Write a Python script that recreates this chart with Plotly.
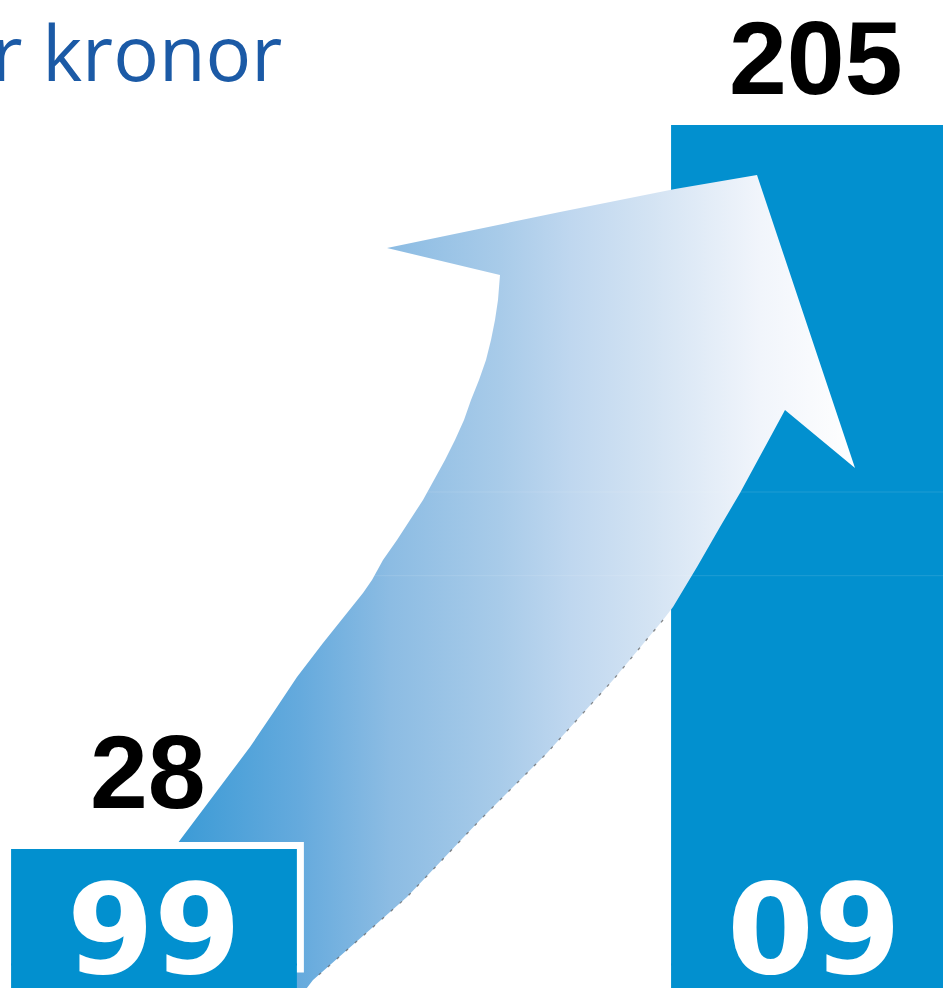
import plotly.graph_objects as go

# ---- data ----
categories = ["99", "09"]
values = [28, 205]
value_labels = ["28", "205"]
unit_title = "Miljarder kronor"

# ---- style ----
BAR_COLOR = "#0290CF"
TITLE_COLOR = "#1B5AA6"
BAR_W = 0.430
LABEL_BAND = 8  # depth of the category-label band under each bar (axis units)
VALUE_LABEL_SHIFT = [(-6, 18), (2, 8)]  # (xshift, yshift) in px per value label

# decorative growth arrow outline (in page pixels, drawn on its own overlay axes)
arrow_x = [120, 180, 190, 220, 250, 273, 297, 323, 363, 372, 383, 397, 410, 423,
           434, 445, 455, 464, 471, 479, 486, 491, 495, 498, 500,
           387, 560, 675, 757, 855, 785, 758, 740, 720, 697, 673, 663,
           613, 547, 480, 407, 313, 290, 100]
arrow_y = [920, 840, 827, 787, 747, 713, 677, 643, 593, 580, 560, 540, 520, 500,
           480, 460, 440, 420, 400, 380, 360, 340, 320, 300, 275,
           248, 212, 189, 175, 468, 410, 460, 493, 527, 567, 607, 620,
           680, 753, 820, 897, 980, 1010, 1010]
shadow_x = [663, 613, 547, 480, 407, 313]
shadow_y = [620, 680, 753, 820, 897, 980]

fig = go.Figure()

bar_line = dict(width=2, color=BAR_COLOR)

# bar for 09 (behind the arrow)
fig.add_trace(go.Bar(x=[categories[1]], y=[values[1]], width=[BAR_W],
                     marker=dict(color=BAR_COLOR, line=bar_line),
                     xaxis="x", yaxis="y", hoverinfo="skip"))
fig.add_trace(go.Bar(x=[categories[1]], y=[-LABEL_BAND], width=[BAR_W],
                     marker=dict(color=BAR_COLOR, line=bar_line),
                     xaxis="x", yaxis="y", hoverinfo="skip"))

# arrow
fig.add_trace(go.Scatter(x=arrow_x, y=arrow_y, mode="lines", fill="toself",
                         line=dict(width=0, color="rgba(0,0,0,0)"),
                         fillgradient=dict(type="horizontal", start=150, stop=860,
                                           colorscale=[[0, "#3598d5"], [0.042, "#3c9bd6"],
                                                       [0.211, "#65aadd"], [0.338, "#8cbce3"],
                                                       [0.493, "#a8cbe9"], [0.592, "#bfd7ef"],
                                                       [0.704, "#d3e3f3"], [0.859, "#f1f5fb"],
                                                       [1, "#ffffff"]]),
                         xaxis="x2", yaxis="y2", hoverinfo="skip"))
fig.add_trace(go.Scatter(x=shadow_x, y=shadow_y, mode="lines",
                         line=dict(width=1.3, color="rgba(90,90,90,0.7)", dash="3px,9px"),
                         xaxis="x2", yaxis="y2", hoverinfo="skip"))

# bar for 99 (in front of the arrow, with white halo)
fig.add_trace(go.Bar(x=[categories[0]], y=[values[0]], width=[BAR_W],
                     marker=dict(color="white", line=dict(width=16, color="white")),
                     xaxis="x3", yaxis="y3", hoverinfo="skip"))
fig.add_trace(go.Bar(x=[categories[0]], y=[values[0]], width=[BAR_W],
                     marker=dict(color=BAR_COLOR, line=bar_line),
                     xaxis="x3", yaxis="y3", hoverinfo="skip"))
fig.add_trace(go.Bar(x=[categories[0]], y=[-LABEL_BAND], width=[BAR_W],
                     marker=dict(color=BAR_COLOR, line=bar_line),
                     xaxis="x3", yaxis="y3", hoverinfo="skip"))

annotations = []
for i, (cat, val, lab) in enumerate(zip(categories, values, value_labels)):
    xs, ys = VALUE_LABEL_SHIFT[i]
    annotations.append(dict(x=i, y=val, xref="x", yref="y", text=lab,
                            showarrow=False, xanchor="center", yanchor="bottom",
                            xshift=xs, yshift=ys,
                            font=dict(family="Liberation Sans, Arial", size=104,
                                      color="black", weight="bold")))
    annotations.append(dict(x=i, y=0.059, xref="x", yref="paper", text=cat,
                            showarrow=False, xanchor="center", yanchor="middle",
                            font=dict(family="DejaVu Sans", size=125,
                                      color="white", weight="bold")))
annotations.append(dict(x=284 / 943, y=1 - 52 / 988, xref="paper", yref="paper",
                        text=unit_title, showarrow=False, xanchor="right", yanchor="middle",
                        font=dict(family="Open Sans", size=76, color=TITLE_COLOR)))

hidden = dict(visible=False, showgrid=False, zeroline=False, fixedrange=True)
fig.update_layout(
    width=943, height=988, margin=dict(l=0, r=0, t=0, b=0),
    paper_bgcolor="white", plot_bgcolor="white",
    showlegend=False, barmode="overlay",
    xaxis=dict(type="category", categoryorder="array", categoryarray=categories,
               range=[-0.2333, 1.1955], **hidden),
    yaxis=dict(range=[-5.75, 235.8], **hidden),
    xaxis2=dict(range=[0, 943], overlaying="x", **hidden),
    yaxis2=dict(range=[988, 0], overlaying="y", **hidden),
    xaxis3=dict(type="category", categoryorder="array", categoryarray=categories,
                matches="x", overlaying="x", **hidden),
    yaxis3=dict(matches="y", overlaying="y", **hidden),
    annotations=annotations,
    shapes=[dict(type="line", xref="paper", yref="paper", x0=0.35, x1=1,
                 y0=(988 - 492) / 988, y1=(988 - 492) / 988, layer="above",
                 line=dict(color="rgba(255,255,255,0.12)", width=1)),
            dict(type="line", xref="paper", yref="paper", x0=0.35, x1=1,
                 y0=(988 - 575.7) / 988, y1=(988 - 575.7) / 988, layer="above",
                 line=dict(color="rgba(255,255,255,0.12)", width=1))],
)

fig.write_html("out.html", config={"displayModeBar": False},
               post_script="document.body.style.margin='0px';")
